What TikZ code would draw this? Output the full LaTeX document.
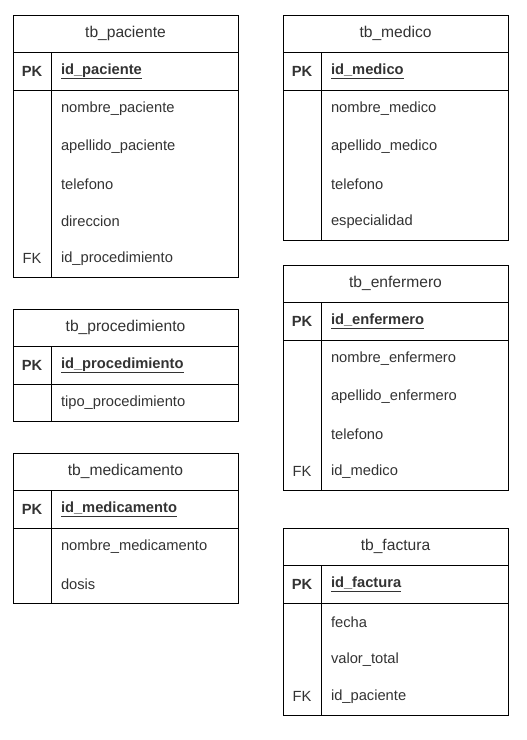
\documentclass[tikz,border=0pt]{standalone}
\usepackage{fontspec}
\setmainfont{Liberation Sans}
\usepackage{tikz}
\usetikzlibrary{positioning}
\newcommand{\rowh}{37.5pt}
\tikzset{
  every node/.style={outer sep=0pt},
  tblhead/.style={draw, anchor=north west, minimum width=225pt, minimum height=\rowh, inner sep=0pt, font=\fontsize{15.6}{18}\selectfont, text=black!80},
  keycell/.style={draw, anchor=north west, minimum width=38pt, minimum height=\rowh, inner sep=0pt, font=\fontsize{14.7}{17}\selectfont\bfseries, text=black!80},
  pkcell/.style={draw, anchor=north west, minimum width=187pt, minimum height=\rowh, text width=167pt, inner xsep=10pt, inner ysep=0pt, align=left, font=\fontsize{14.7}{17}\selectfont\bfseries, text=black!80},
  keybody/.style={draw, anchor=north west, minimum width=38pt, inner sep=0pt},
  fieldbody/.style={draw, anchor=north west, minimum width=187pt, inner sep=0pt},
  field/.style={anchor=north west, minimum height=\rowh, text width=167pt, inner xsep=10pt, inner ysep=0pt, align=left, font=\fontsize{14.7}{17}\selectfont, text=black!80},
  fktxt/.style={inner sep=0pt, font=\fontsize{14.7}{17}\selectfont, text=black!80},
}
\begin{document}
\begin{tikzpicture}[line width=1pt]
  \fill[white] (0,0) rectangle (527pt,-740pt);

  % tb_paciente
  \node[tblhead] (pacH) at (13pt,-15pt) {tb\_paciente};
  \node[keycell] (pacK) at (pacH.south west) {PK};
  \node[pkcell] (pacP) at (pacK.north east) {\underline{id\_paciente}};
  \node[keybody, minimum height=5*37.5pt] (pacKB) at (pacK.south west) {};
  \node[fieldbody, minimum height=5*37.5pt] (pacB) at (pacKB.north east) {};
  \node[field] (pac1) at (pacB.north west) {nombre\_paciente};
  \node[field, below=0pt of pac1] (pac2) {apellido\_paciente};
  \node[field, below=0pt of pac2] (pac3) {telefono};
  \node[field, below=0pt of pac3] (pac4) {direccion};
  \node[field, below=0pt of pac4] (pac5) {id\_procedimiento};
  \node[fktxt] (pacFK) at (pacK |- pac5) {FK};

  % tb_procedimiento
  \node[tblhead] (proH) at (13pt,-309pt) {tb\_procedimiento};
  \node[keycell] (proK) at (proH.south west) {PK};
  \node[pkcell] (proP) at (proK.north east) {\underline{id\_procedimiento}};
  \node[keybody, minimum height=37.5pt] (proKB) at (proK.south west) {};
  \node[fieldbody, minimum height=37.5pt] (proB) at (proKB.north east) {};
  \node[field] (pro1) at (proB.north west) {tipo\_procedimiento};

  % tb_medicamento
  \node[tblhead] (mctH) at (13pt,-453pt) {tb\_medicamento};
  \node[keycell] (mctK) at (mctH.south west) {PK};
  \node[pkcell] (mctP) at (mctK.north east) {\underline{id\_medicamento}};
  \node[keybody, minimum height=2*37.5pt] (mctKB) at (mctK.south west) {};
  \node[fieldbody, minimum height=2*37.5pt] (mctB) at (mctKB.north east) {};
  \node[field] (mct1) at (mctB.north west) {nombre\_medicamento};
  \node[field, below=0pt of mct1] (mct2) {dosis};

  % tb_medico
  \node[tblhead] (medH) at (283pt,-15pt) {tb\_medico};
  \node[keycell] (medK) at (medH.south west) {PK};
  \node[pkcell] (medP) at (medK.north east) {\underline{id\_medico}};
  \node[keybody, minimum height=4*37.5pt] (medKB) at (medK.south west) {};
  \node[fieldbody, minimum height=4*37.5pt] (medB) at (medKB.north east) {};
  \node[field] (med1) at (medB.north west) {nombre\_medico};
  \node[field, below=0pt of med1] (med2) {apellido\_medico};
  \node[field, below=0pt of med2] (med3) {telefono};
  \node[field, below=0pt of med3] (med4) {especialidad};

  % tb_enfermero
  \node[tblhead] (enfH) at (283pt,-265pt) {tb\_enfermero};
  \node[keycell] (enfK) at (enfH.south west) {PK};
  \node[pkcell] (enfP) at (enfK.north east) {\underline{id\_enfermero}};
  \node[keybody, minimum height=4*37.5pt] (enfKB) at (enfK.south west) {};
  \node[fieldbody, minimum height=4*37.5pt] (enfB) at (enfKB.north east) {};
  \node[field] (enf1) at (enfB.north west) {nombre\_enfermero};
  \node[field, below=0pt of enf1] (enf2) {apellido\_enfermero};
  \node[field, below=0pt of enf2] (enf3) {telefono};
  \node[field, below=0pt of enf3] (enf4) {id\_medico};
  \node[fktxt] (enfFK) at (enfK |- enf4) {FK};

  % tb_factura
  \node[tblhead] (facH) at (283pt,-528pt) {tb\_factura};
  \node[keycell] (facK) at (facH.south west) {PK};
  \node[pkcell] (facP) at (facK.north east) {\underline{id\_factura}};
  \node[keybody, minimum height=3*37.5pt] (facKB) at (facK.south west) {};
  \node[fieldbody, minimum height=3*37.5pt] (facB) at (facKB.north east) {};
  \node[field] (fac1) at (facB.north west) {fecha};
  \node[field, below=0pt of fac1] (fac2) {valor\_total};
  \node[field, below=0pt of fac2] (fac3) {id\_paciente};
  \node[fktxt] (facFK) at (facK |- fac3) {FK};
\end{tikzpicture}
\end{document}
